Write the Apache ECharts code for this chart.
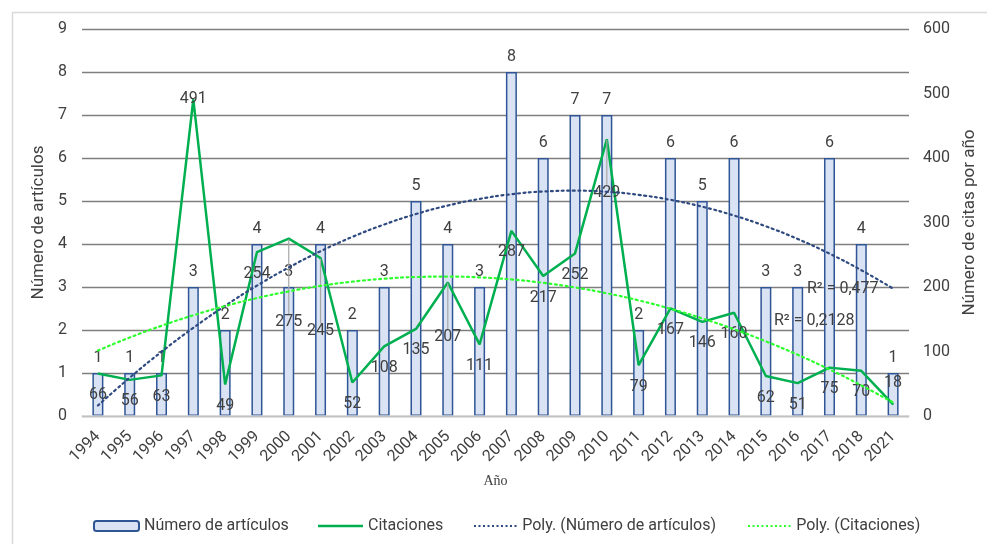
<!DOCTYPE html>
<html>
<head>
<meta charset="utf-8">
<script src="https://cdn.jsdelivr.net/npm/echarts@6/dist/echarts.min.js"></script>
<style>html,body{margin:0;padding:0;background:#fff;}#c{width:987px;height:544px;}</style>
</head>
<body>
<div id="c"></div>
<script>
const years = ['1994','1995','1996','1997','1998','1999','2000','2001','2002','2003','2004','2005','2006','2007','2008','2009','2010','2011','2012','2013','2014','2015','2016','2017','2018','2021'];
const articulos = [1,1,1,3,2,4,3,4,2,3,5,4,3,8,6,7,7,2,6,5,6,3,3,6,4,1];
const citaciones = [66,56,63,491,49,254,275,245,52,108,135,207,111,287,217,252,429,79,167,146,160,62,51,75,70,18];
const leftTicks = {min:0, max:9, interval:1};
const rightTicks = {min:0, max:600, interval:100};
const r2Labels = ['R² = 0,477', 'R² = 0,2128'];

// Excel-style 2nd-order polynomial trendline (least squares, x = 1..n)
function polyFit2(ys){
  const n = ys.length;
  let S = [0,0,0,0,0], T = [0,0,0];
  for(let i=0;i<n;i++){
    const x=i+1, y=ys[i];
    let p=1;
    for(let k=0;k<5;k++){S[k]+=p; if(k<3) T[k]+=p*y; p*=x;}
  }
  const A=[[S[0],S[1],S[2],T[0]],[S[1],S[2],S[3],T[1]],[S[2],S[3],S[4],T[2]]];
  for(let c=0;c<3;c++){
    for(let r=c+1;r<3;r++){
      const f=A[r][c]/A[c][c];
      for(let k=c;k<4;k++) A[r][k]-=f*A[c][k];
    }
  }
  const b=[0,0,0];
  for(let r=2;r>=0;r--){
    let s=A[r][3];
    for(let k=r+1;k<3;k++) s-=A[r][k]*b[k];
    b[r]=s/A[r][r];
  }
  return ys.map((_,i)=>{const x=i+1; return +(b[0]+b[1]*x+b[2]*x*x).toFixed(4);});
}
const trendArt = polyFit2(articulos);
const trendCit = polyFit2(citaciones);

const txt = '#404040';
const font = 'Roboto';
// label adjustments for the citation series
const citExtraDy = {6:62, 7:52, 11:33, 16:32};
const citData = citaciones.map((v,i)=>{
  const d = {value:v};
  if(i===3) d.label = {position:'inside'};
  if(i===25) d.label = {position:'top', distance:13};
  if(citExtraDy[i]) d.labelLine = {show:true, lineStyle:{color:'#a6a6a6', width:1.2}};
  return d;
});

// dotted legend icon
let dotPath = 'path://';
for(let x=0;x<45;x+=4.5){ dotPath += 'M'+x+' 0h2v2h-2z '; }

const chart = echarts.init(document.getElementById('c'), null, {renderer:'canvas'});
const legText = {color:txt, fontSize:16, fontFamily:font};
chart.setOption({
  backgroundColor:'#fff',
  animation:false,
  textStyle:{fontFamily:font},
  grid:{left:82, right:78, top:29, bottom:128},
  legend:[
    {left:93, top:518, padding:0, itemWidth:45, itemHeight:10, textStyle:legText, data:['Número de artículos']},
    {left:318, top:518, padding:0, itemWidth:45, itemHeight:2.5, icon:'rect', textStyle:legText, data:['Citaciones']},
    {left:474, top:518, padding:0, itemWidth:44, itemHeight:2, icon:dotPath, textStyle:legText, data:['Poly. (Número de artículos)']},
    {left:748, top:518, padding:0, itemWidth:44, itemHeight:2, icon:dotPath, textStyle:legText, data:['Poly. (Citaciones)']}
  ],
  xAxis:{
    type:'category', data:years, boundaryGap:true, z:5,
    name:'Año', nameLocation:'middle', nameGap:58,
    nameTextStyle:{fontFamily:'Liberation Serif', fontSize:14, color:txt},
    axisLine:{lineStyle:{color:'#d9d9d9', width:1.5}},
    axisTick:{show:false},
    axisLabel:{rotate:45, fontSize:16, color:txt, margin:18, interval:0}
  },
  yAxis:[
    {type:'value', min:leftTicks.min, max:leftTicks.max, interval:leftTicks.interval, position:'left',
     name:'Número de artículos', nameLocation:'middle', nameGap:30, nameRotate:90,
     nameTextStyle:{fontSize:17, color:txt},
     axisLine:{show:false}, axisTick:{show:false},
     axisLabel:{fontSize:16, color:txt, margin:15},
     splitLine:{lineStyle:{color:'#7f7f7f', width:1.3}}},
    {type:'value', min:rightTicks.min, max:rightTicks.max, interval:rightTicks.interval, position:'right',
     name:'Número de citas por año', nameLocation:'middle', nameGap:52, nameRotate:90,
     nameTextStyle:{fontSize:17, color:txt},
     axisLine:{show:false}, axisTick:{show:false},
     axisLabel:{fontSize:16, color:txt, margin:14},
     splitLine:{show:false}}
  ],
  series:[
    {name:'Número de artículos', type:'bar', yAxisIndex:0, data:articulos, barWidth:11,
     itemStyle:{color:'#dae3f3', borderColor:'#2f5597', borderWidth:1.5},
     label:{show:true, position:'top', distance:7, color:txt, fontSize:16}},
    {name:'Citaciones', type:'line', yAxisIndex:1, data:citData, symbol:'circle', symbolSize:1, showSymbol:true,
     lineStyle:{color:'#00b050', width:2.5}, itemStyle:{color:'#00b050'}, z:3,
     label:{show:true, position:'bottom', distance:13, color:txt, fontSize:16},
     labelLayout:function(p){ const d=citExtraDy[p.dataIndex]; return d?{dy:d}:{}; }},
    {name:'Poly. (Número de artículos)', type:'line', yAxisIndex:0, data:trendArt, symbol:'none', smooth:true,
     lineStyle:{color:'#2f4a80', width:2.2, type:[2,3.5], cap:'round'}, itemStyle:{color:'#2f4a80'}, z:4, silent:true},
    {name:'Poly. (Citaciones)', type:'line', yAxisIndex:1, data:trendCit, symbol:'none', smooth:true,
     lineStyle:{color:'#2eff2e', width:2.2, type:[2,3.5], cap:'round'}, itemStyle:{color:'#2eff2e'}, z:4, silent:true}
  ],
  graphic:[
    {type:'rect', left:10, top:10, shape:{width:1000, height:600}, style:{fill:'none', stroke:'#d9d9d9', lineWidth:1.5}, z:-1},
    {type:'text', left:807, top:281, style:{text:r2Labels[0], fontSize:16, fill:txt, fontFamily:font}, z:10},
    {type:'text', left:774, top:313, style:{text:r2Labels[1], fontSize:16, fill:txt, fontFamily:font}, z:10}
  ]
});
</script>
</body>
</html>
